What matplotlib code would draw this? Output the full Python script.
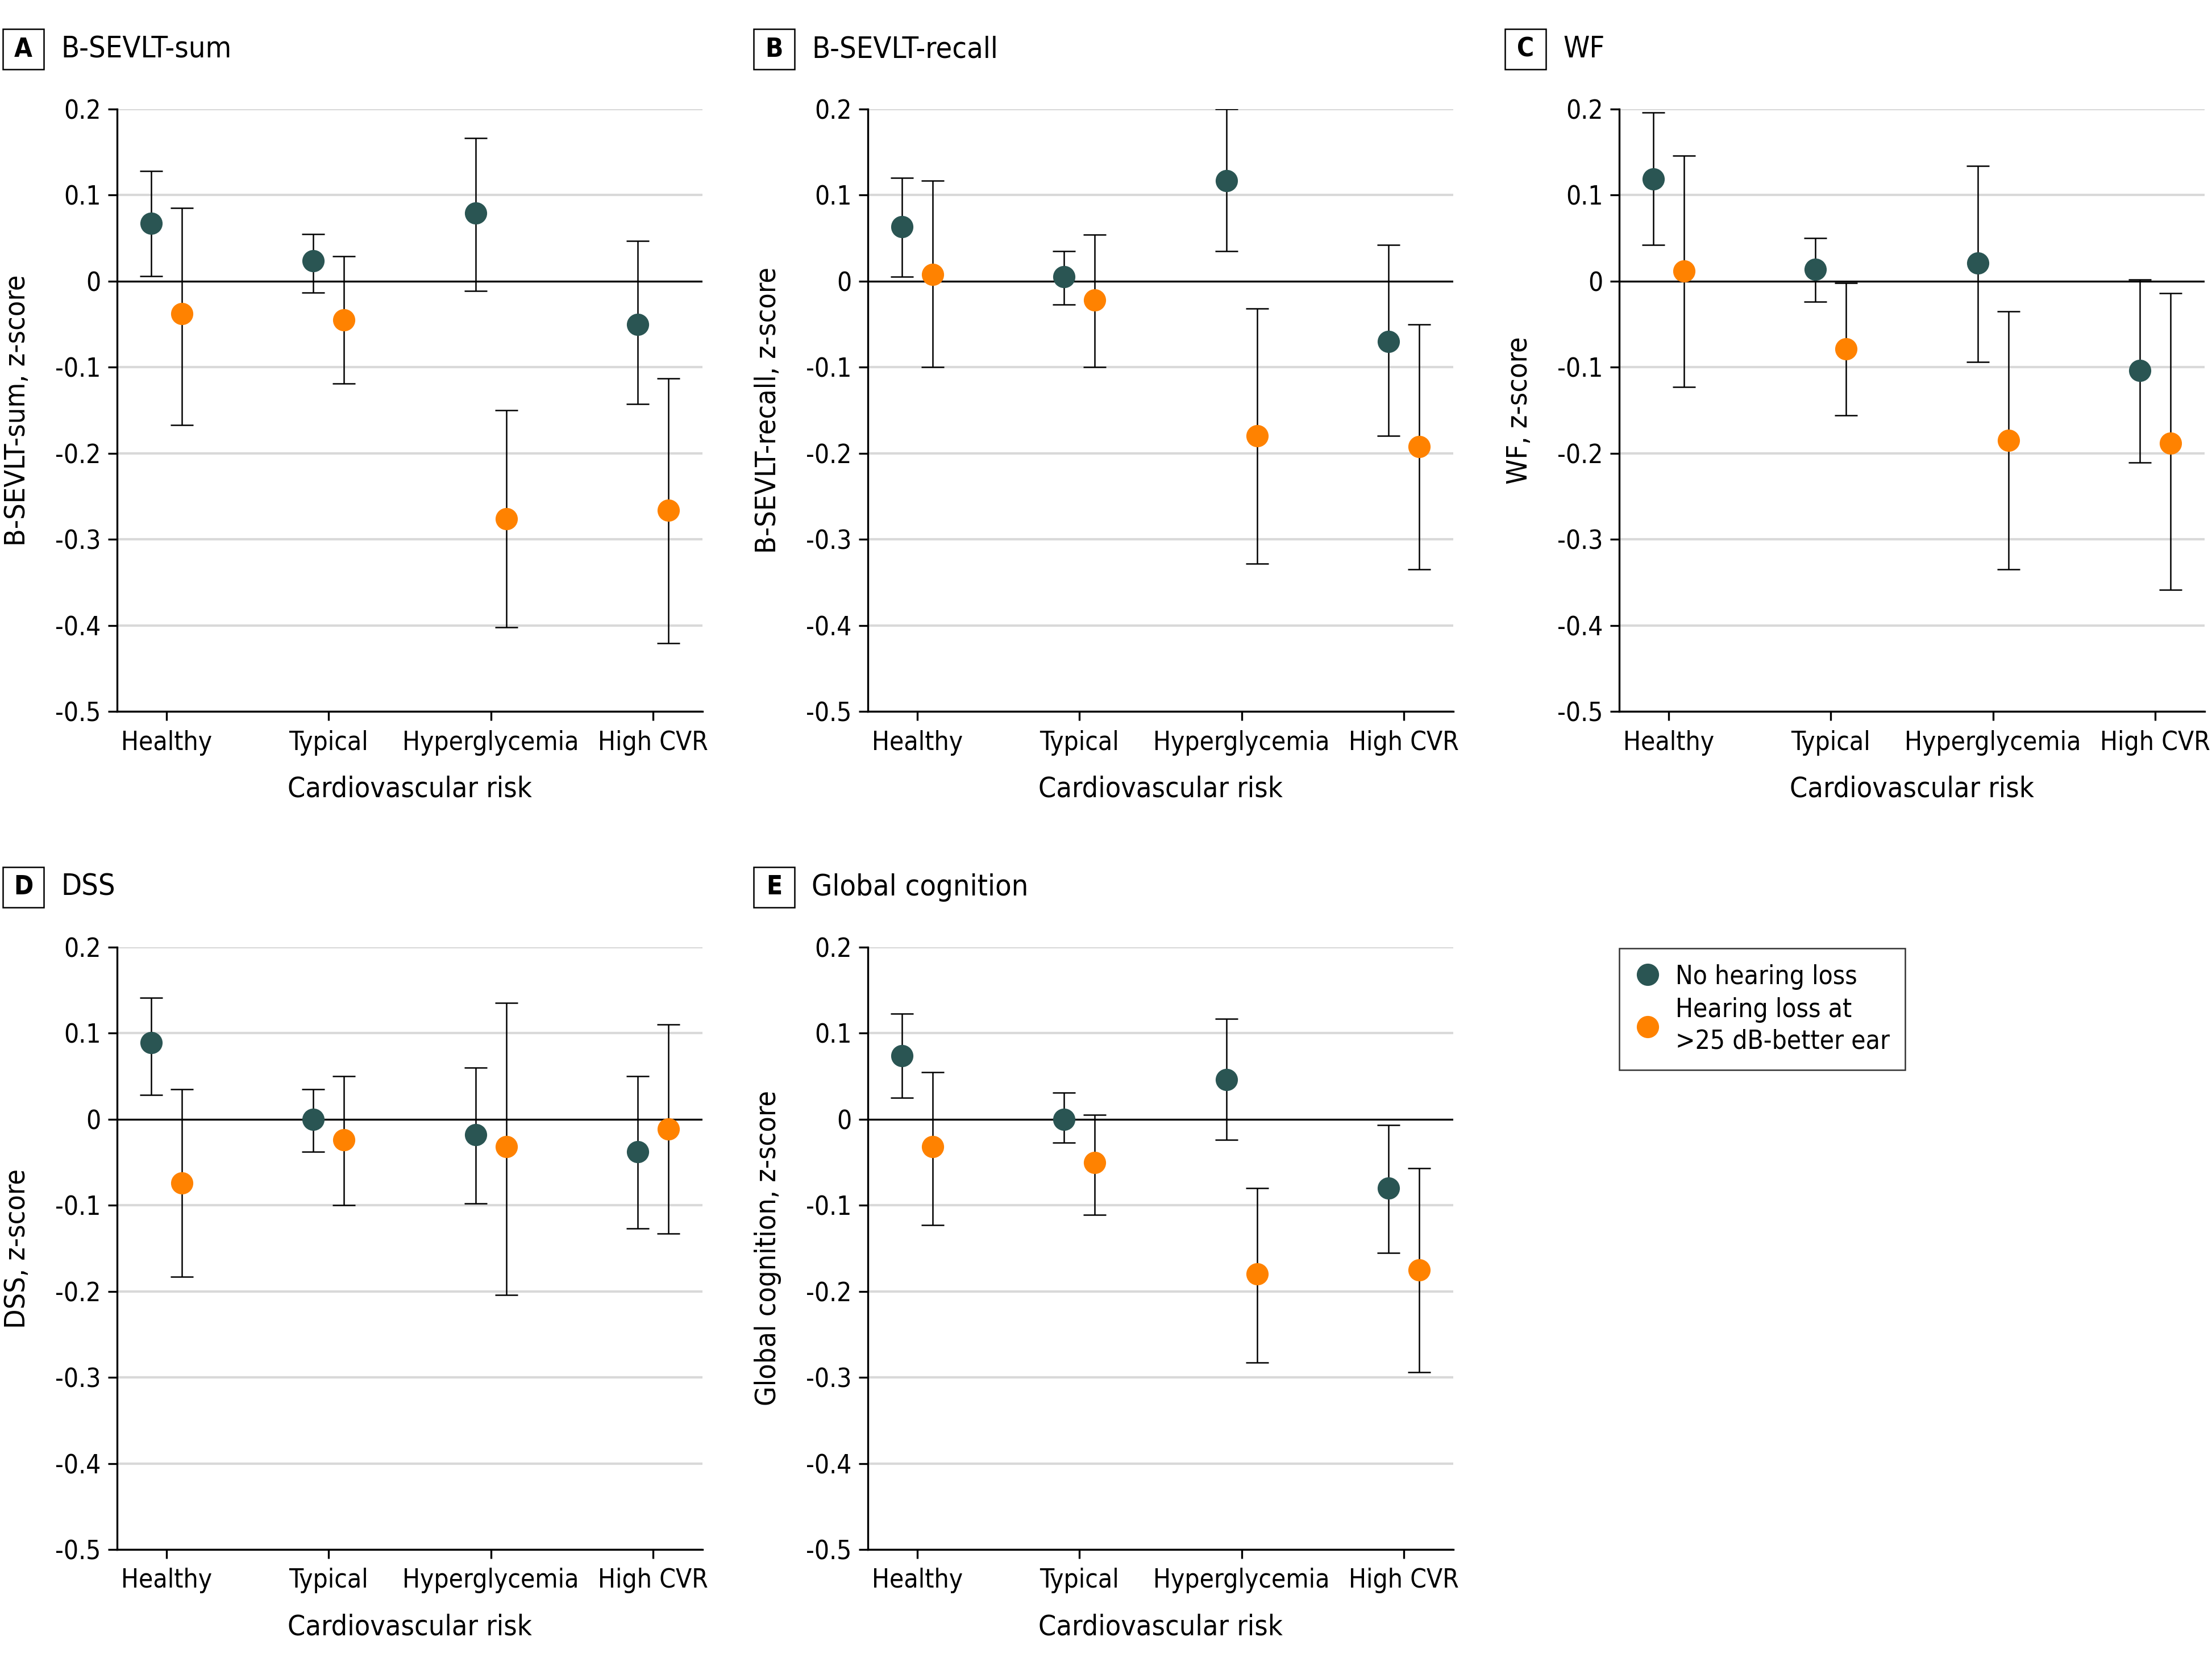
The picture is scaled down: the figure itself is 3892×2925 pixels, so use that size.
import matplotlib
matplotlib.use("Agg")
import matplotlib.pyplot as plt
from matplotlib.patches import Rectangle
from matplotlib.lines import Line2D
import numpy as np

plt.rcParams['font.family'] = ['DejaVu Sans']
plt.rcParams['font.stretch'] = 'condensed'

categories = ['Healthy', 'Typical', 'Hyperglycemia', 'High CVR']
yticks = [0.2, 0.1, 0, -0.1, -0.2, -0.3, -0.4, -0.5]
ytick_labels = ['0.2', '0.1', '0', '-0.1', '-0.2', '-0.3', '-0.4', '-0.5']

panel_letters = ['A', 'B', 'C', 'D', 'E']
panel_titles = ['B-SEVLT-sum', 'B-SEVLT-recall', 'WF', 'DSS', 'Global cognition']
ylabels = ['B-SEVLT-sum, z-score', 'B-SEVLT-recall, z-score', 'WF, z-score',
           'DSS, z-score', 'Global cognition, z-score']

# no hearing loss: estimate, lower CI, upper CI (per category)
nohl_est = [[0.067, 0.024, 0.079, -0.050],
            [0.063, 0.005, 0.117, -0.070],
            [0.119, 0.014, 0.021, -0.104],
            [0.089, 0.000, -0.018, -0.038],
            [0.074, 0.000, 0.046, -0.080]]
nohl_lo = [[0.006, -0.013, -0.011, -0.143],
           [0.005, -0.027, 0.035, -0.180],
           [0.042, -0.024, -0.094, -0.211],
           [0.028, -0.038, -0.098, -0.127],
           [0.025, -0.027, -0.024, -0.155]]
nohl_hi = [[0.128, 0.055, 0.166, 0.047],
           [0.120, 0.035, 0.200, 0.042],
           [0.196, 0.050, 0.134, 0.002],
           [0.141, 0.035, 0.060, 0.050],
           [0.123, 0.031, 0.117, -0.007]]

# hearing loss >25 dB better ear
hl_est = [[-0.038, -0.045, -0.276, -0.266],
          [0.008, -0.022, -0.180, -0.192],
          [0.012, -0.079, -0.185, -0.188],
          [-0.074, -0.024, -0.032, -0.011],
          [-0.032, -0.050, -0.180, -0.175]]
hl_lo = [[-0.167, -0.119, -0.402, -0.421],
         [-0.100, -0.100, -0.328, -0.335],
         [-0.123, -0.156, -0.335, -0.359],
         [-0.183, -0.100, -0.204, -0.133],
         [-0.123, -0.111, -0.283, -0.294]]
hl_hi = [[0.085, 0.029, -0.150, -0.113],
         [0.117, 0.054, -0.032, -0.050],
         [0.146, -0.002, -0.035, -0.014],
         [0.035, 0.050, 0.135, 0.110],
         [0.055, 0.005, -0.080, -0.057]]

legend_labels = ['No hearing loss', 'Hearing loss at\n>25 dB-better ear']
dark = '#2a5553'
orange = '#ff8200'

W, H = 3892, 2925
fig = plt.figure(figsize=(W / 300, H / 300), dpi=300)

# axes placement in pixels (left, top)
ax_w, ax_h = 1030, 1060
lefts = [206, 1527, 2849, 206, 1527]
tops = [192, 192, 192, 1667, 1667]

x = np.arange(1, 5)
off = 0.095

for i in range(5):
    l, t = lefts[i], tops[i]
    ax = fig.add_axes([l / W, 1 - (t + ax_h) / H, ax_w / W, ax_h / H])
    ax.set_axisbelow(True)
    for yv in yticks:
        if yv != 0:
            ax.axhline(yv, color='#d9d9d9', lw=1.0, zorder=0)
    ax.axhline(0, color='black', lw=0.8, zorder=1)

    est = np.array(nohl_est[i]); lo = np.array(nohl_lo[i]); hi = np.array(nohl_hi[i])
    ax.errorbar(x - off, est, yerr=[est - lo, hi - est], fmt='o', color=dark,
                ms=8.4, ecolor='black', elinewidth=0.6, capsize=4.8, capthick=0.6, zorder=3)
    est = np.array(hl_est[i]); lo = np.array(hl_lo[i]); hi = np.array(hl_hi[i])
    ax.errorbar(x + off, est, yerr=[est - lo, hi - est], fmt='o', color=orange,
                ms=8.4, ecolor='black', elinewidth=0.6, capsize=4.8, capthick=0.6, zorder=3)

    ax.set_xlim(0.695, 4.305)
    ax.set_ylim(-0.5, 0.2)
    ax.set_yticks(yticks)
    ax.set_yticklabels(ytick_labels)
    ax.set_xticks(x)
    ax.set_xticklabels(categories)
    ax.spines['top'].set_visible(False)
    ax.spines['right'].set_visible(False)
    ax.spines['left'].set_linewidth(0.8)
    ax.spines['bottom'].set_linewidth(0.8)
    ax.tick_params(axis='both', length=3.8, width=0.8, labelsize=11, pad=3)
    ax.tick_params(axis='x', pad=4)
    ax.set_xlabel('Cardiovascular risk', fontsize=12, labelpad=8.3)
    ax.set_ylabel(ylabels[i], fontsize=12)
    ax.yaxis.set_label_coords(-0.148, 0.5)

    # panel letter box + title
    bx0, by0 = l - 201, t - 141
    fig.patches.append(Rectangle((bx0 / W, 1 - (by0 + 71) / H), 72 / W, 71 / H,
                                 transform=fig.transFigure, fill=False,
                                 ec='black', lw=0.6))
    fig.text((bx0 + 36) / W, 1 - (by0 + 36) / H, panel_letters[i],
             ha='center', va='center', fontsize=11, fontweight='bold')
    fig.text((bx0 + 102) / W, 1 - (by0 + 36) / H, panel_titles[i],
             ha='left', va='center', fontsize=12.5)

handles = [Line2D([], [], marker='o', ls='none', color=dark, ms=8.4),
           Line2D([], [], marker='o', ls='none', color=orange, ms=8.4)]
leg = fig.legend(handles, legend_labels, loc='upper left',
                 bbox_to_anchor=(2849 / W, 1 - 1669 / H), fontsize=11,
                 frameon=True, fancybox=False, edgecolor='black',
                 borderpad=0.6, handletextpad=0.55, labelspacing=0.3,
                 handlelength=1.0, borderaxespad=0)
for txt in leg.get_texts():
    txt.set_linespacing(1.3)
leg.get_frame().set_linewidth(0.6)

fig.savefig('out.png', dpi=300, facecolor='white')
